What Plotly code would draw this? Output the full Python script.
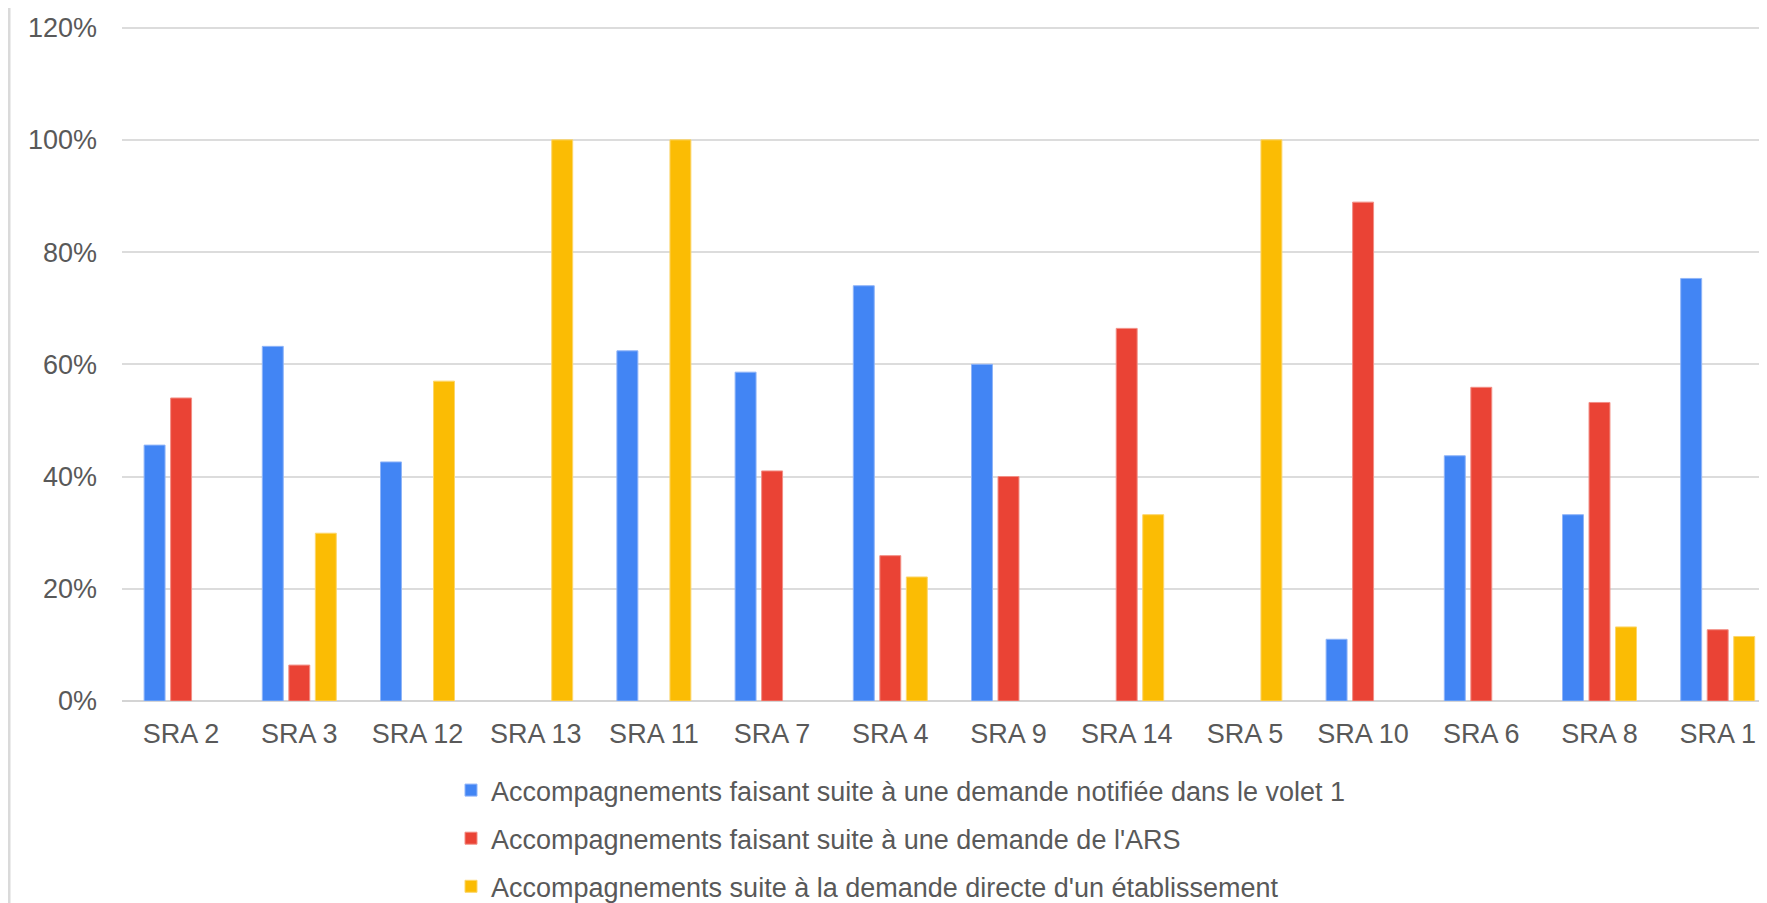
import plotly.graph_objects as go

categories = ["SRA 2", "SRA 3", "SRA 12", "SRA 13", "SRA 11", "SRA 7", "SRA 4",
              "SRA 9", "SRA 14", "SRA 5", "SRA 10", "SRA 6", "SRA 8", "SRA 1"]

# None = empty cell (no bar)
volet1 = [0.456, 0.632, 0.426, None, 0.624, 0.586, 0.740,
          0.600, None, None, 0.110, 0.437, 0.332, 0.753]
ars = [0.540, 0.064, None, None, None, 0.410, 0.259,
       0.400, 0.664, None, 0.889, 0.559, 0.532, 0.127]
etab = [None, 0.299, 0.570, 1.0, 1.0, None, 0.221,
        None, 0.332, 1.0, None, None, 0.132, 0.115]

series_names = [
    "Accompagnements faisant suite à une demande notifiée dans le volet 1",
    "Accompagnements faisant suite à une demande de l'ARS",
    "Accompagnements suite à la demande directe d'un établissement",
]
series_values = [volet1, ars, etab]
colors = ["#4285F4", "#EA4335", "#FBBC04"]
line_colors = ["#8fb4f8", "#f28e85", "#fcd66a"]

# page body has an 8px margin: work in screen pixels, convert to figure pixels
OFF = 8
W, H = 1767, 903
y_max_tick = 1.2
y_top = 1.21
plot_left_s, top_tick_s, plot_bottom_s = 122, 28, 701
px_per_unit = (plot_bottom_s - top_tick_s) / y_max_tick
plot_top_s = plot_bottom_s - y_top * px_per_unit
L = plot_left_s - OFF
T = plot_top_s - OFF
B = H - (plot_bottom_s - OFF)
R = 0
pw = W - L - R
ph = H - T - B
cat_px = 118.2

fig = go.Figure()
for i, (name, vals) in enumerate(zip(series_names, series_values)):
    fig.add_trace(go.Bar(
        x=categories, y=vals, name=name,
        marker=dict(color=colors[i], line=dict(color=line_colors[i], width=1)),
        legendgroup=f"g{i}",
        hoverinfo="x+y+name",
    ))

font_family = "Arial, Liberation Sans, Helvetica, sans-serif"
text_color = "#595959"

def px_x(sx):
    return (sx - OFF - L) / pw

def px_y(sy):
    return (H - B - (sy - OFF)) / ph

fig.update_layout(
    width=W, height=H,
    margin=dict(l=L, r=R, t=T, b=B, pad=0, autoexpand=False),
    paper_bgcolor="white", plot_bgcolor="white",
    barmode="group", bargap=0.327, bargroupgap=0.21,
    font=dict(family=font_family, size=27, color=text_color),
    showlegend=True,
    legend=dict(
        x=px_x(451), y=px_y(766), xanchor="left", yanchor="top",
        orientation="v", tracegroupgap=10,
        font=dict(family=font_family, size=27, color=text_color),
        bgcolor="rgba(0,0,0,0)", itemclick=False,
    ),
    xaxis=dict(
        type="category",
        range=[-0.5, -0.5 + pw / cat_px],
        showgrid=False, showline=False, ticks="",
        tickfont=dict(family=font_family, size=27, color=text_color),
        ticklabelstandoff=14,
        fixedrange=True,
    ),
    yaxis=dict(
        range=[0, y_top], dtick=0.2, tick0=0, tickformat=".0%",
        showgrid=True, gridcolor="#dcdcdc", gridwidth=2,
        zeroline=True, zerolinecolor="#d4d4d4", zerolinewidth=2,
        showline=False, ticks="",
        tickfont=dict(family=font_family, size=27, color=text_color),
        ticklabelstandoff=24,
        fixedrange=True,
    ),
    shapes=[dict(
        type="line", xref="paper", yref="paper",
        x0=px_x(9), x1=px_x(9), y0=px_y(0), y1=px_y(910),
        line=dict(color="#dadada", width=3), layer="above",
    )],
)

fig.write_html("out.html")
